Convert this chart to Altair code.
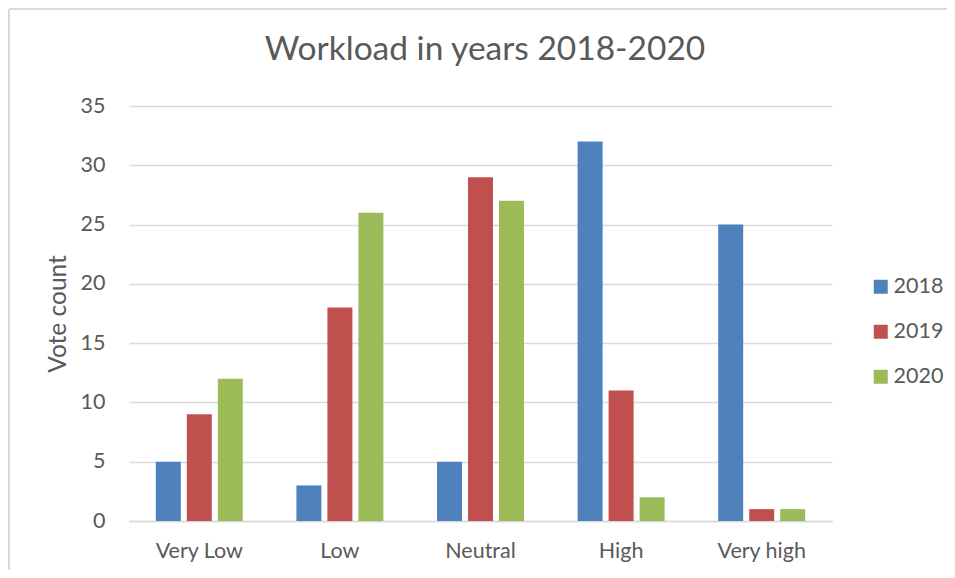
import altair as alt
import pandas as pd

categories = ["Very Low", "Low", "Neutral", "High", "Very high"]
years = ["2018", "2019", "2020"]
v2018 = [5, 3, 5, 32, 25]
v2019 = [9, 18, 29, 11, 1]
v2020 = [12, 26, 27, 2, 1]
colors = ["#4F81BD", "#C0504D", "#9BBB59"]
title_text = "Workload in years 2018-2020"

rows = []
for yr, vals in zip(years, [v2018, v2019, v2020]):
    for c, v in zip(categories, vals):
        rows.append({"category": c, "year": yr, "votes": v})
df = pd.DataFrame(rows)

W, H = 703, 415
FONT = "Lato"
GREY = "#595959"

bars = alt.Chart(df).mark_bar().encode(
    x=alt.X("category:N", sort=categories,
            scale=alt.Scale(paddingInner=0, paddingOuter=0),
            axis=alt.Axis(title=None, labelAngle=0, ticks=False, labelFontSize=21.5,
                          labelColor=GREY, labelFont=FONT, labelPadding=19,
                          domainColor="#d9d9d9", domainWidth=1.5, grid=False)),
    xOffset=alt.XOffset("year:N", sort=years,
                        scale=alt.Scale(paddingInner=0.194, paddingOuter=0.865)),
    y=alt.Y("votes:Q", scale=alt.Scale(domain=[0, 35], nice=False),
            axis=alt.Axis(title="Vote count", values=[0, 5, 10, 15, 20, 25, 30, 35],
                          ticks=False, domain=False, labelFontSize=21.5, labelColor=GREY,
                          labelFont=FONT, labelPadding=24, gridColor="#d9d9d9",
                          gridWidth=1.5, titleFontSize=24.5, titleFont=FONT,
                          titleColor=GREY, titleFontWeight="normal", titlePadding=10)),
    color=alt.Color("year:N", sort=years,
                    scale=alt.Scale(domain=years, range=colors),
                    legend=alt.Legend(title=None, orient="none", legendX=741, legendY=170,
                                      padding=0, symbolType="square", symbolSize=196,
                                      symbolStrokeWidth=0, labelFontSize=21.5,
                                      labelFont=FONT, labelColor=GREY,
                                      rowPadding=22, labelOffset=2)),
)

border_df = pd.DataFrame({"a": [0]})
left_edge = alt.Chart(border_df).mark_rule(color="#d9d9d9", strokeWidth=2).encode(
    x=alt.value(-120), y=alt.value(-97), y2=alt.value(2000),
)
top_edge = alt.Chart(border_df).mark_rule(color="#d9d9d9", strokeWidth=2).encode(
    x=alt.value(-120), x2=alt.value(2000), y=alt.value(-97),
)

title = alt.Chart(pd.DataFrame({"t": [title_text]})).mark_text(
    font=FONT, fontSize=33.5, color=GREY, align="center", baseline="alphabetic"
).encode(
    text="t:N", x=alt.value(W / 2 + 4.5), y=alt.value(-46),
)

chart = alt.layer(left_edge, top_edge, bars, title).properties(
    width=W, height=H,
    autosize=alt.AutoSizeParams(type="none"),
    padding={"left": 121, "top": 98, "right": 115, "bottom": 49},
).configure_view(stroke=None)

chart.save("out.html", embed_options={"renderer": "svg", "actions": False})
